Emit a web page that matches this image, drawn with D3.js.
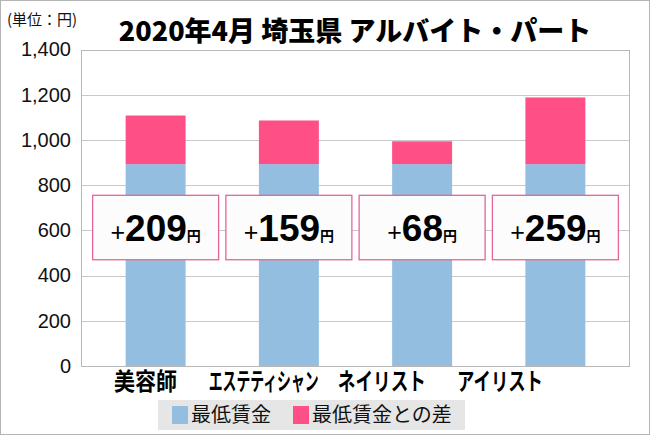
<!DOCTYPE html>
<html>
<head>
<meta charset="utf-8">
<script src="https://cdn.jsdelivr.net/npm/d3@7"></script>
<style>
  html, body { margin: 0; padding: 0; background: #fff; }
  svg { display: block; }
</style>
</head>
<body>
<svg id="chart" width="650" height="435"></svg>
<script>
// ---- data ----
const title = "2020年4月 埼玉県 アルバイト・パート";
const unitLabel = "(単位：円)";
const categories = ["美容師", "エステティシャン", "ネイリスト", "アイリスト"];
const minWage = [893, 893, 893, 893];          // 最低賃金 (bar as drawn)
const diffBar = [215, 193, 101, 295];          // 最低賃金との差 (bar as drawn)
const diffLabels = [209, 159, 68, 259];        // labels printed in boxes
const yTicks = [0, 200, 400, 600, 800, 1000, 1200, 1400];
const seriesNames = ["最低賃金", "最低賃金との差"];
const colors = ["#93bedf", "#fe5087"];

// ---- layout ----
const svg = d3.select("#chart");
const W = 650, H = 435;
const plot = { left: 81, right: 629, top: 49.5, bottom: 366 };
const JP = "'Noto Sans CJK JP', 'Noto Sans', sans-serif";
const LAT = "'Liberation Sans', Arial, sans-serif";

svg.append("rect").attr("x", 0.5).attr("y", 0.5).attr("width", W - 1).attr("height", H - 1)
  .attr("fill", "#fff").attr("stroke", "#b4b4b4");

const y = d3.scaleLinear().domain([0, 1400]).range([plot.bottom, plot.top]);
const x = d3.scaleBand().domain(categories).range([89, 622]).paddingInner(0.55).paddingOuter(0.275);
const labelX = d3.scalePoint().domain(categories).range([145.5, 500]);

// gridlines
svg.append("g").selectAll("line").data(yTicks).join("line")
  .attr("x1", plot.left).attr("x2", plot.right)
  .attr("y1", d => Math.round(y(d)) + 0.5).attr("y2", d => Math.round(y(d)) + 0.5)
  .attr("stroke", "#c9c9c9").attr("stroke-width", 1);

// plot frame
svg.append("rect").attr("x", plot.left + 0.5).attr("y", Math.round(plot.top) + 0.5)
  .attr("width", plot.right - plot.left).attr("height", Math.round(plot.bottom) - Math.round(plot.top))
  .attr("fill", "none").attr("stroke", "#b8b8b8");

// y axis via d3.axisLeft
const yAxis = d3.axisLeft(y).tickValues(yTicks).tickFormat(d3.format(",")).tickSize(0).tickPadding(10);
const yg = svg.append("g").attr("transform", `translate(${plot.left},0)`).call(yAxis);
yg.select(".domain").remove();
yg.selectAll("text").attr("font-family", LAT).attr("font-size", 20).attr("fill", "#111");

// stacked bars
const stackData = categories.map((c, i) => ({ cat: c, base: minWage[i], diff: diffBar[i] }));
const stack = d3.stack().keys(["base", "diff"])(stackData);
svg.append("g").selectAll("g").data(stack).join("g")
  .attr("fill", (d, i) => colors[i])
  .selectAll("rect").data(d => d).join("rect")
  .attr("x", d => x(d.data.cat))
  .attr("width", x.bandwidth())
  .attr("y", d => y(d[1]))
  .attr("height", d => y(d[0]) - y(d[1]));

// difference label boxes
const boxW = 126;
const boxTop = y(755), boxBot = y(470);
const lg = svg.append("g").selectAll("g").data(categories).join("g")
  .attr("transform", c => `translate(${x(c) + x.bandwidth() / 2},0)`);
lg.append("rect")
  .attr("x", -boxW / 2).attr("y", boxTop).attr("width", boxW).attr("height", boxBot - boxTop)
  .attr("fill", "#fcfcfc").attr("stroke", "#e4659a").attr("stroke-width", 1.3);
const t = lg.append("text")
  .attr("x", 0).attr("y", boxTop + 46)
  .attr("text-anchor", "middle").attr("fill", "#000");
t.append("tspan").attr("font-family", LAT).attr("font-size", 25).attr("font-weight", "normal")
  .text("+");
t.append("tspan").attr("font-family", LAT).attr("font-size", 37).attr("font-weight", "bold")
  .text((c, i) => diffLabels[i]);
t.append("tspan").attr("font-family", JP).attr("font-size", 14).attr("font-weight", "bold")
  .text("円");

// category labels (horizontally condensed to match the reference widths)
const catWidths = [63, 110, 88, 86];
svg.append("g").selectAll("text").data(categories).join("text")
  .attr("font-family", JP).attr("font-size", 24).attr("font-weight", "bold").attr("fill", "#000")
  .attr("text-anchor", "middle")
  .text(c => c)
  .each(function (c, i) {
    const nat = this.getComputedTextLength();
    const sx = catWidths[i] / nat;
    d3.select(this).attr("transform", `translate(${labelX(c)},390) scale(${sx},1)`);
  });

// title
svg.append("text").attr("x", 355).attr("y", 41).attr("text-anchor", "middle")
  .attr("font-family", JP).attr("font-size", 27).attr("font-weight", 900).attr("fill", "#000")
  .text(title);

// unit label
svg.append("text").attr("x", 7).attr("y", 25)
  .attr("font-family", JP).attr("font-size", 15).attr("fill", "#111")
  .text(unitLabel);

// legend
const leg = svg.append("g");
leg.append("rect").attr("x", 158).attr("y", 400).attr("width", 307).attr("height", 30).attr("fill", "#e6e6e6");
const legX = [172, 293];
const li = leg.selectAll("g").data(seriesNames).join("g")
  .attr("transform", (d, i) => `translate(${legX[i]},0)`);
li.append("rect").attr("x", 0).attr("y", 406).attr("width", 16).attr("height", 18)
  .attr("fill", (d, i) => colors[i]);
li.append("text").attr("x", 19).attr("y", 422)
  .attr("font-family", JP).attr("font-size", 20).attr("fill", "#111")
  .text(d => d);
</script>
</body>
</html>
